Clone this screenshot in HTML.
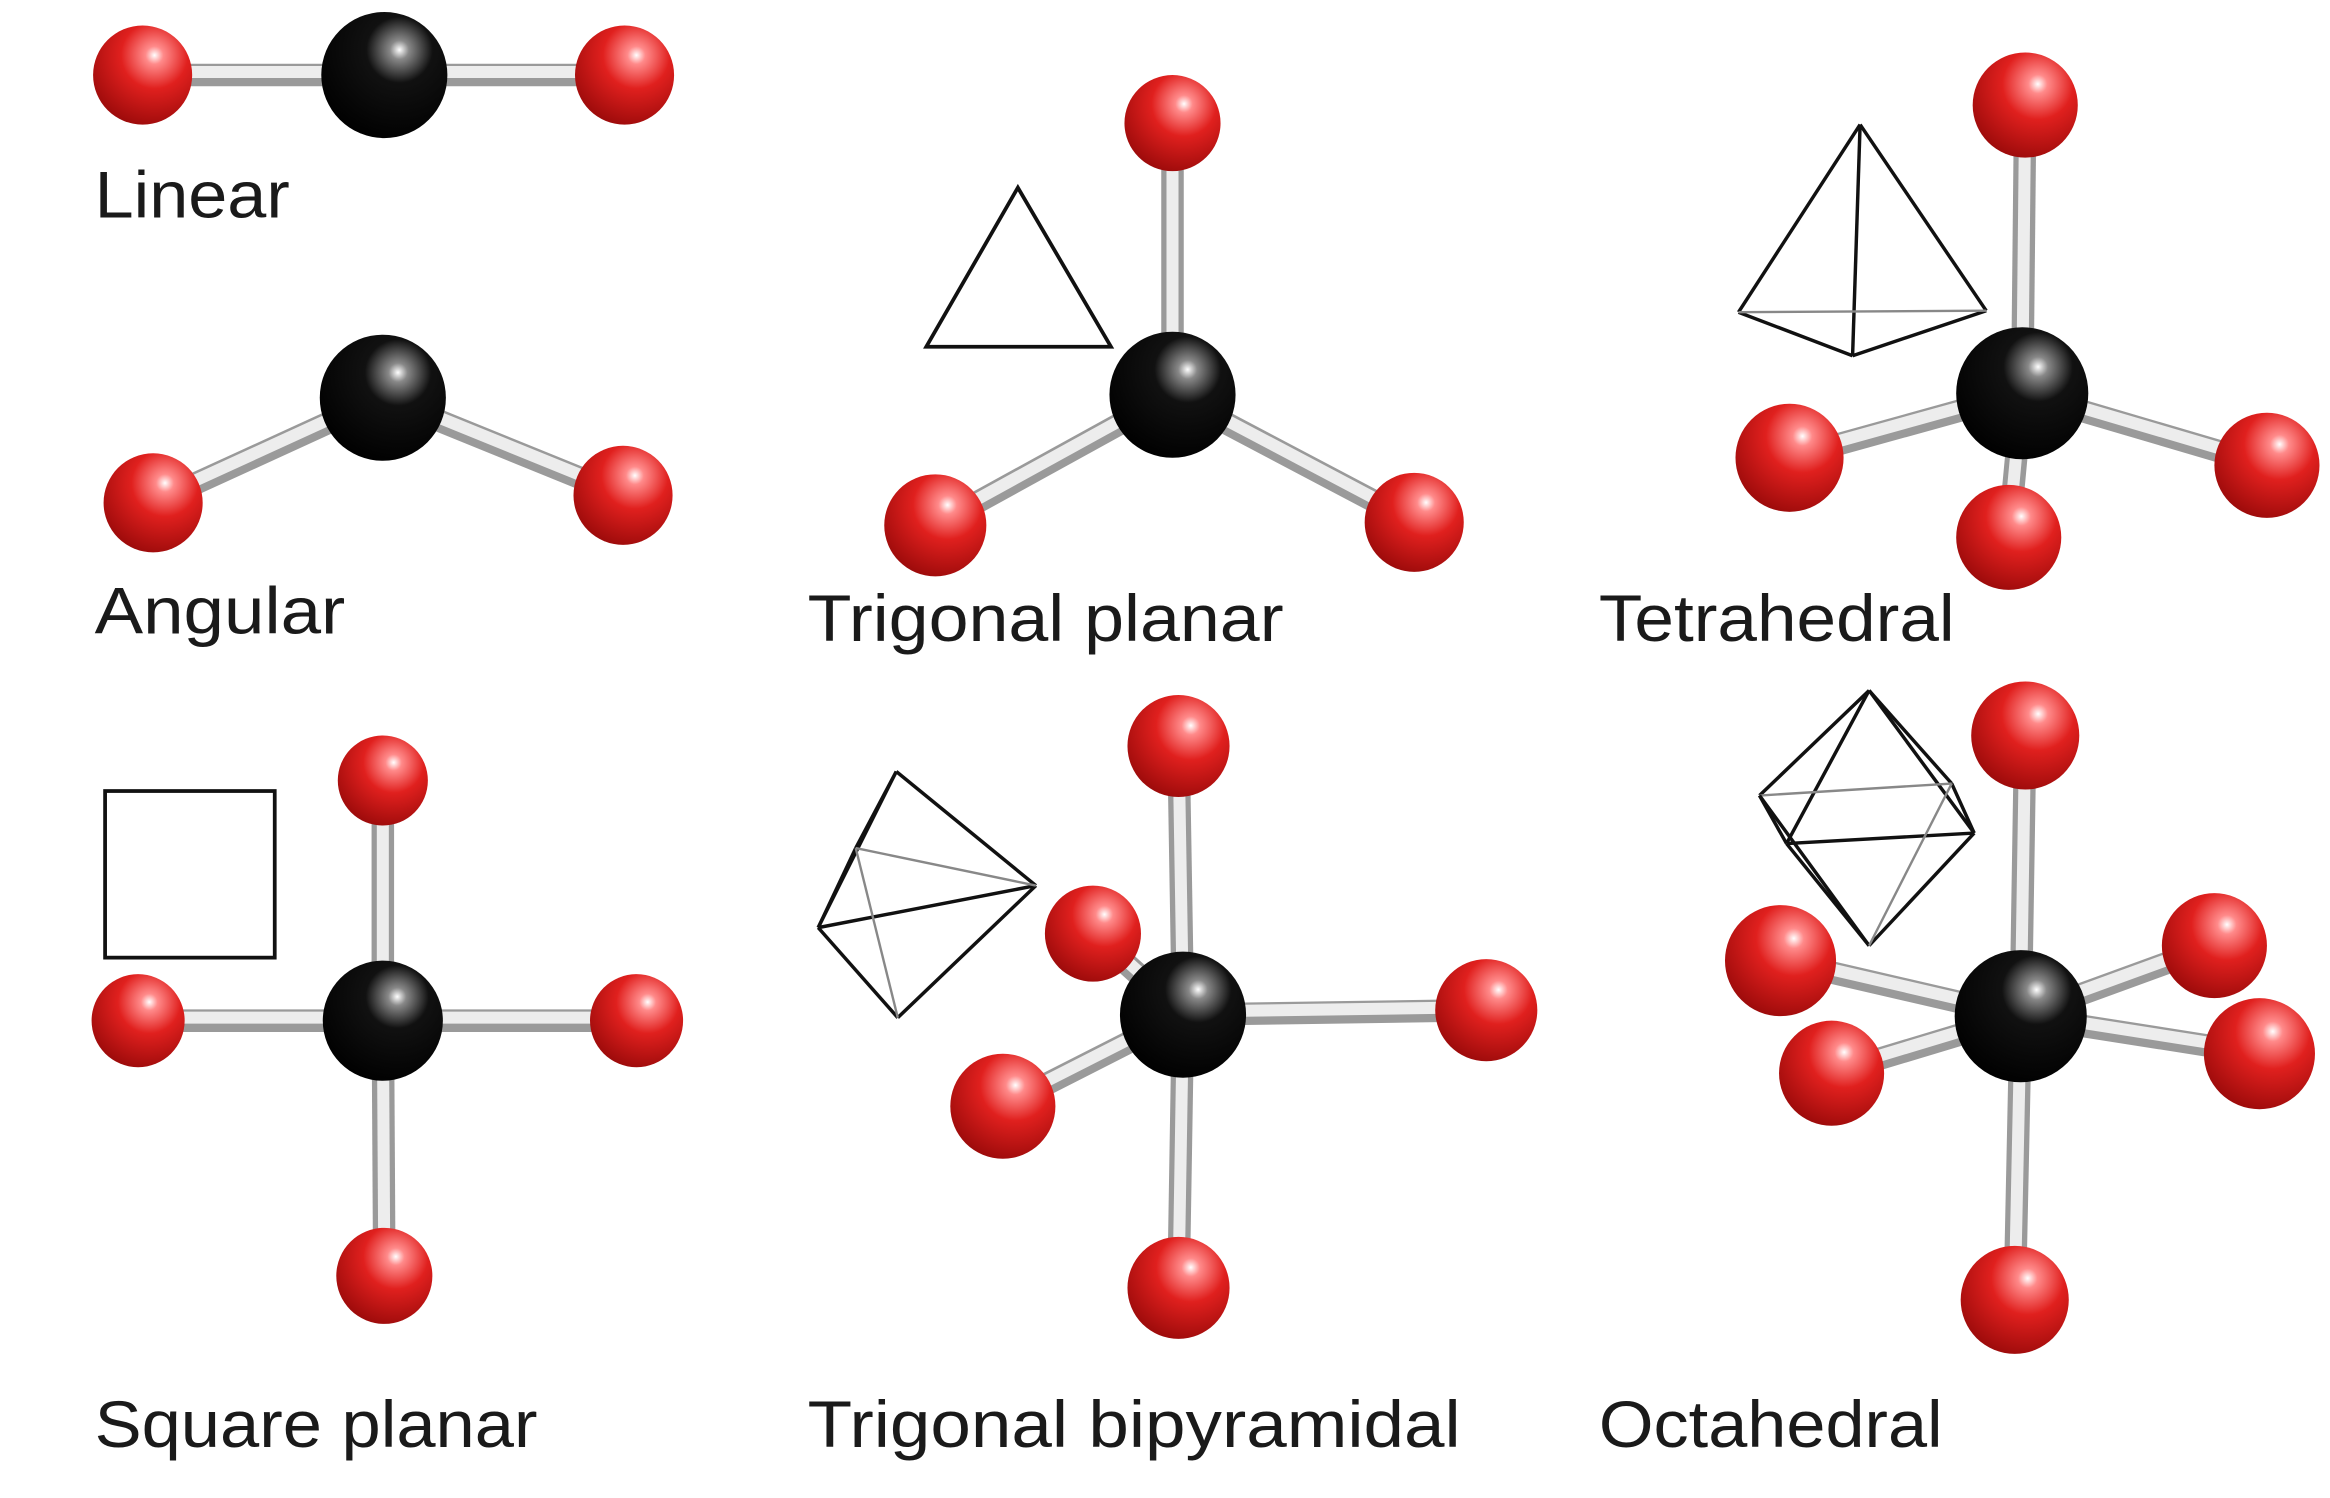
<!DOCTYPE html>
<html><head><meta charset="utf-8"><style>
html,body{margin:0;padding:0;background:#fff;}
svg{display:block;}
text{font-family:"Liberation Sans",sans-serif;font-size:44px;fill:#1a1a1a;}
</style></head><body>
<svg width="2330" height="1498" viewBox="0 0 1552 998" preserveAspectRatio="none">
<defs>
<radialGradient id="red" cx="0.62" cy="0.3" r="0.75">
<stop offset="0" stop-color="#fff"/><stop offset="0.12" stop-color="#ff8a8a"/><stop offset="0.45" stop-color="#e0201e"/><stop offset="1" stop-color="#9a0a0a"/></radialGradient>
<radialGradient id="blk" cx="0.62" cy="0.3" r="0.75">
<stop offset="0" stop-color="#fff"/><stop offset="0.1" stop-color="#888"/><stop offset="0.35" stop-color="#111"/><stop offset="1" stop-color="#000"/></radialGradient>
</defs>
<g id="scene"></g>
</svg>
<script>
const ns="http://www.w3.org/2000/svg";
const scene=document.getElementById('scene');
const molecules=[
 {name:'linear',center:[256,50,42],atoms:[[95,50,33],[416,50,33]]},
 {name:'angular',center:[255,265,42],atoms:[[102,335,33],[415,330,33]]},
 {name:'trigonal-planar',center:[781,263,42],atoms:[[781,82,32],[623,350,34],[942,348,33]]},
 {name:'tetrahedral',center:[1347,262,44],atoms:[[1349,70,35],[1192,305,36],[1510,310,35],[1338,358,35]]},
 {name:'square-planar',center:[255,680,40],atoms:[[255,520,30],[256,850,32],[92,680,31],[424,680,31]]},
 {name:'trigonal-bipyramidal',center:[788,676,42],atoms:[[728,622,32],[785,497,34],[785,858,34],[990,673,34],[668,737,35]]},
 {name:'octahedral',center:[1346,677,44],atoms:[[1475,630,35],[1349,490,36],[1342,866,36],[1186,640,37],[1505,702,37],[1220,715,35]]}
];
function el(tag,attrs,parent){const e=document.createElementNS(ns,tag);for(const k in attrs)e.setAttribute(k,attrs[k]);(parent||scene).appendChild(e);return e;}
molecules.forEach(m=>{
 const g=el('g',{});
 
 
 const [cx,cy,cr]=m.center;
 m.atoms.forEach(a=>{
  el('line',{x1:cx,y1:cy,x2:a[0],y2:a[1],stroke:'#9a9a9a','stroke-width':15},g);
  el('line',{x1:cx,y1:cy-2,x2:a[0],y2:a[1]-2,stroke:'#ededed','stroke-width':8},g);
 });
 const c=el('circle',{cx:cx,cy:cy,r:cr,fill:'url(#blk)'},g);
 
 
 m.atoms.forEach(a=>{
  const o=el('circle',{cx:a[0],cy:a[1],r:a[2],fill:'url(#red)'},g);
  
  
 });
});
const outlines=[
 ['polygon',{points:'617,231 678,125 740,231',fill:'none',stroke:'#111','stroke-width':2.5},'triangle-outline'],
 ['rect',{x:70,y:527,width:113,height:111,fill:'none',stroke:'#111','stroke-width':2.5},'square-outline']
];
outlines.forEach(o=>{const e=el(o[0],o[1]);});
function lines(name,segs){const g=el('g',{});
 segs.forEach(s=>el('line',{x1:s[0],y1:s[1],x2:s[2],y2:s[3],stroke:s[4]?'#888':'#111','stroke-width':s[4]?1.6:2.3},g));}
lines('tetrahedron-outline',[[1239,83,1158,208],[1239,83,1234,237],[1239,83,1323,207],[1158,208,1234,237],[1234,237,1323,207],[1158,208,1323,207,1]]);
lines('bipyramid-outline',[[597,514,545,618],[597,514,690,590],[597,514,570,565],[598,678,545,618],[598,678,690,590],[545,618,690,590],[570,565,545,618],[570,565,690,590,1],[570,565,598,678,1]]);
lines('octahedron-outline',[[1245,460,1172,530],[1245,460,1190,562],[1245,460,1315,555],[1245,460,1300,522],[1172,530,1190,562],[1190,562,1315,555],[1315,555,1300,522],[1172,530,1300,522,1],[1245,630,1190,562],[1245,630,1315,555],[1245,630,1172,530],[1245,630,1300,522,1]]);
const labels=[['Linear',63,145,130],['Angular',63,422,167],['Trigonal planar',538,427,317],['Tetrahedral',1065,427,237],['Square planar',63,964,295],['Trigonal bipyramidal',538,964,435],['Octahedral',1065,964,229]];
labels.forEach(l=>{const t=el('text',{x:l[1],y:l[2],textLength:l[3],lengthAdjust:'spacingAndGlyphs'});t.textContent=l[0];
 
 });
</script>
</body></html>
